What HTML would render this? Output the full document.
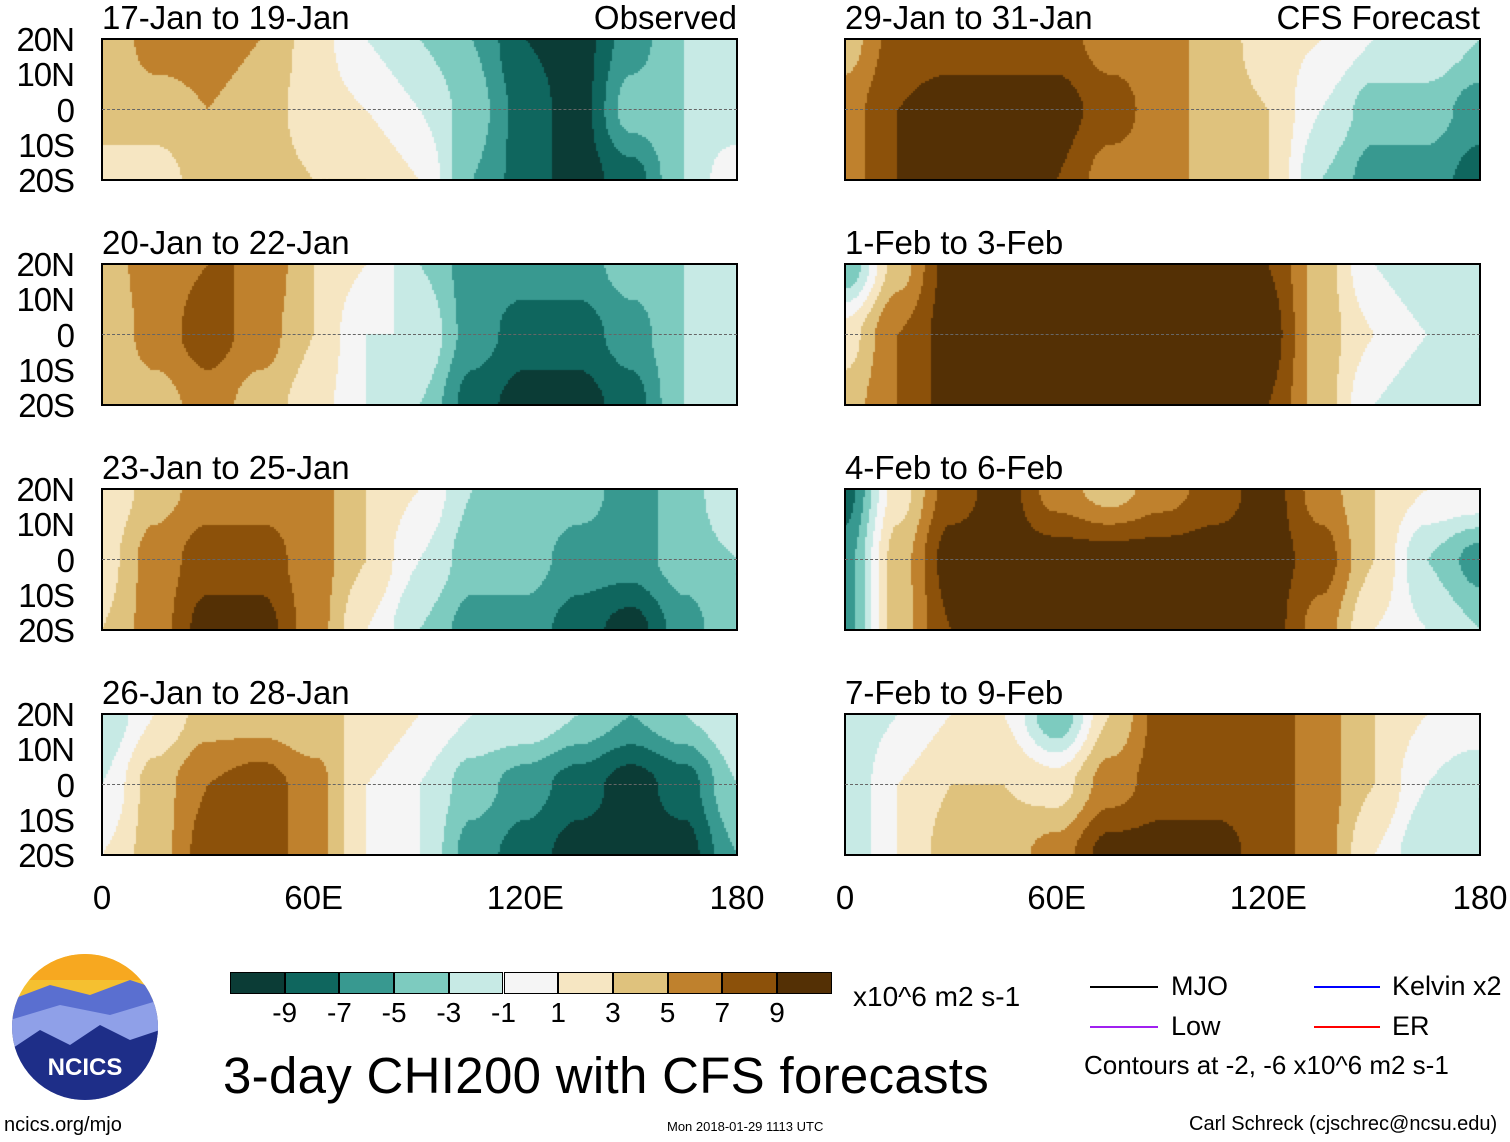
<!DOCTYPE html>
<html><head><meta charset="utf-8">
<style>
body{margin:0;background:#fff;width:1510px;height:1142px;position:relative;overflow:hidden;font-family:"Liberation Sans",sans-serif;color:#000}
.t{position:absolute;white-space:nowrap}
.lat{position:absolute;font-size:33px;width:74px;text-align:right;left:0px;line-height:33px;letter-spacing:-1px}
.ptitle{position:absolute;font-size:33px;line-height:33px}
canvas{position:absolute}
.frame{position:absolute;border:2px solid #000;box-sizing:border-box}
.eq{position:absolute;height:0;border-top:1px dashed #666}
</style></head><body>
<script>
// longitudes (degE) of data columns, latitude rows: N, Eq, S
const lons=[0,15,30,45,60,75,90,105,120,135,150,165,180];
const titles=["17-Jan to 19-Jan","20-Jan to 22-Jan","23-Jan to 25-Jan","26-Jan to 28-Jan","29-Jan to 31-Jan","1-Feb to 3-Feb","4-Feb to 6-Feb","7-Feb to 9-Feb"];
const p1=[[3,3,3],[6,4,2],[6,5,4],[5,4,4],[2,2,3],[-1,1,3],[-3,-1,1],[-5,-4,-5],[-9,-8,-8],[-10,-10,-10],[-6,-4,-8],[-3,-3,-3],[-1,-3,1]];
const p2=[[4,3,3],[6,6,4],[7,8,6],[7,6,4],[3,3,2],[1,-1,-1],[-3,-1,-3],[-6,-6,-8],[-6,-8,-10],[-6,-8,-10],[-4,-6,-8],[-3,-3,-3],[-1,-1,-3]];
const p3=[[1,2,3],[4,6,6],[6,8,10],[6,8,10],[6,6,6],[3,3,1],[1,-1,-3],[-3,-4,-6],[-3,-4,-6],[-4,-6,-8],[-6,-6,-10],[-4,-4,-6],[-1,-3,-3]];
const p4=[[-3,-1,1],[1,4,4],[4,7,8],[4,8,8],[3,6,6],[3,1,1],[1,-1,-1],[-1,-4,-6],[-1,-6,-8],[-3,-8,-10],[-5,-10,-10],[-3,-8,-10],[-1,-3,-5]];
const p5=[[4,6,6],[8,9,9],[8,10,10],[8,10,10],[8,10,9],[6,8,6],[6,6,6],[4,4,4],[2,3,3],[1,-1,-3],[-1,-4,-6],[-1,-4,-6],[-3,-6,-8]];
const p6=[[-5,2,4],[4,7,7],[10,10,10],[10,10,10],[10,10,10],[10,10,10],[10,10,10],[10,10,10],[9,10,9],[4,4,4],[-1,1,-1],[-3,-1,-3],[-1,-3,-3]];
const p7=[[-8,-6,-6],[2,4,4],[8,10,9],[10,10,10],[6,10,10],[4,10,10],[6,10,10],[8,10,10],[10,10,10],[6,8,6],[3,3,1],[1,-3,-1],[1,-6,-3]];
const p8=[[-3,-3,-3],[-1,1,1],[1,3,4],[1,3,4],[-5,2,6],[3,6,10],[8,8,10],[8,8,10],[8,8,8],[6,6,6],[3,3,1],[1,-1,-3],[1,-3,-3]];
const panels=[p1,p2,p3,p4,p5,p6,p7,p8];
const levels=[-9,-7,-5,-3,-1,1,3,5,7,9];
const cbColors=["#0b3c36","#0f665e","#389990","#7dcbbf","#c7eae5","#f5f5f5","#f6e6c2","#dfc27d","#bf812d","#8c510a","#543005"];
const cbLabels=["-9","-7","-5","-3","-1","1","3","5","7","9"];
</script>
<script>
const W=635,H=141;
const colX=[102,845], rowY=[39,264,489,714];
const xScale=l=>l/180*W;
function colorFor(v){let i=0;while(i<levels.length&&v>=levels[i])i++;return cbColors[i];}
function val(data,px,py){
  const lf=px/W*(lons.length-1);let i=Math.min(Math.floor(lf),lons.length-2);const fx=lf-i;
  const rf=py/H*2;let j=Math.min(Math.floor(rf),1);const fy=rf-j;
  const sx=fx*fx*(3-2*fx), sy=fy*fy*(3-2*fy);
  const a=data[i][j]*(1-sx)+data[i+1][j]*sx, b=data[i][j+1]*(1-sx)+data[i+1][j+1]*sx;
  return a*(1-sy)+b*sy;
}
const body=document.body;
panels.forEach((data,k)=>{
  const col=k<4?0:1,row=k%4,x0=colX[col],y0=rowY[row];
  const c=document.createElement('canvas');c.width=W;c.height=H;
  c.style.left=x0+'px';c.style.top=y0+'px';
  
  
  const g=c.getContext('2d');
  for(let py=0;py<H;py+=2)for(let px=0;px<W;px+=2){g.fillStyle=colorFor(val(data,px+1,py+1));g.fillRect(px,py,2,2);}
  body.appendChild(c);
  const f=document.createElement('div');f.className='frame';
  f.style.cssText=`left:${x0-1}px;top:${y0-1}px;width:${W+2}px;height:${H+2}px`;
  
  
  body.appendChild(f);
  const e=document.createElement('div');e.className='eq';
  e.style.cssText=`left:${x0}px;top:${y0+70}px;width:${W}px`;
  
  
  body.appendChild(e);
  const t=document.createElement('div');t.className='ptitle';t.textContent=titles[k];
  t.style.left=x0+'px';t.style.top=(y0-38)+'px';
  
  
  body.appendChild(t);
  if(k==0||k==4){const s=document.createElement('div');s.className='ptitle';s.textContent=k==0?'Observed':'CFS Forecast';
    s.style.left=(x0+W-300)+'px';s.style.width='300px';s.style.textAlign='right';s.style.top=(y0-38)+'px';
    
    
    body.appendChild(s);}
  if(col==0){["20N","10N","0","10S","20S"].forEach((lb,q)=>{const d=document.createElement('div');d.className='lat';d.textContent=lb;d.style.top=(y0+q*35.25-16)+'px';
    
    
    body.appendChild(d);});}
});
[0,1].forEach(col=>{["0","60E","120E","180"].forEach((lb,q)=>{const d=document.createElement('div');d.className='t';d.style.fontSize='33px';d.textContent=lb;
  d.style.left=(colX[col]+xScale(q*60))+'px';d.style.top='879px';d.style.transform='translateX(-50%)';
  
  
  body.appendChild(d);});});
cbColors.forEach((cl,i)=>{const d=document.createElement('div');d.style.cssText=`position:absolute;left:${230+i*54.7}px;top:972px;width:54.7px;height:22px;background:${cl};box-sizing:border-box;border:1px solid #000`;
  
  
  body.appendChild(d);});
cbLabels.forEach((lb,i)=>{const d=document.createElement('div');d.className='t';d.style.cssText=`font-size:28px;left:${230+(i+1)*54.7}px;top:997px;transform:translateX(-50%)`;d.textContent=lb;
  
  
  body.appendChild(d);});
</script>
<div class="t" style="left:853px;top:981px;font-size:28px">x10^6 m2 s-1</div>
<div class="t" style="left:223px;top:1046px;font-size:51px;letter-spacing:0.3px">3-day CHI200 with CFS forecasts</div>
<svg style="position:absolute;left:0;top:0" width="1510" height="1142">
<line x1="1090" y1="987" x2="1158" y2="987" stroke="#000" stroke-width="2"/>
<line x1="1090" y1="1027" x2="1158" y2="1027" stroke="#a020f0" stroke-width="2"/>
<line x1="1314" y1="987" x2="1380" y2="987" stroke="#0000ff" stroke-width="2"/>
<line x1="1314" y1="1027" x2="1380" y2="1027" stroke="#ff0000" stroke-width="2"/>
<g>
<clipPath id="lc"><circle cx="85" cy="1027" r="73"/></clipPath>
<g clip-path="url(#lc)">
<rect x="10" y="950" width="150" height="160" fill="#f5c030"/>
<rect x="10" y="950" width="150" height="30" fill="#f7a820"/>
<path d="M10 1000 L50 985 L90 995 L130 980 L160 990 L160 1110 L10 1110Z" fill="#5a6fd0"/>
<path d="M10 1020 L60 1005 L110 1015 L160 1000 L160 1110 L10 1110Z" fill="#8fa0e8"/>
<path d="M10 1050 L40 1030 L70 1045 L100 1025 L130 1040 L160 1030 L160 1110 L10 1110Z" fill="#1e2e88"/>
</g>
<text x="85" y="1075" font-family="Liberation Sans" font-weight="bold" font-size="24" fill="#fff" text-anchor="middle">NCICS</text>
</g>
</svg>
<div class="t" style="left:1171px;top:971px;font-size:27px">MJO</div>
<div class="t" style="left:1171px;top:1011px;font-size:27px">Low</div>
<div class="t" style="left:1392px;top:971px;font-size:27px">Kelvin x2</div>
<div class="t" style="left:1392px;top:1011px;font-size:27px">ER</div>
<div class="t" style="left:1084px;top:1050px;font-size:26px">Contours at -2, -6 x10^6 m2 s-1</div>
<div class="t" style="left:4px;top:1114px;font-size:20px">ncics.org/mjo</div>
<div class="t" style="left:667px;top:1119px;font-size:13px">Mon 2018-01-29 1113 UTC</div>
<div class="t" style="left:1189px;top:1113px;font-size:20px">Carl Schreck (cjschrec@ncsu.edu)</div>
</body></html>
